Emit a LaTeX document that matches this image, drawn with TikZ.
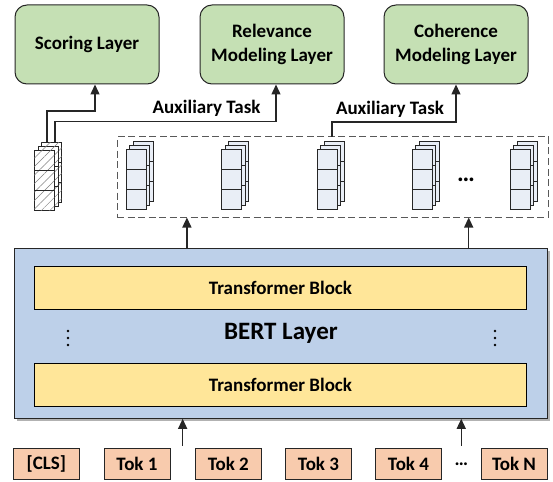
\documentclass[tikz,border=0pt]{standalone}
\usepackage{fontspec}
\setmainfont{Carlito}
\usetikzlibrary{arrows.meta,patterns.meta,calc,positioning}

\definecolor{headgreen}{HTML}{C5E0B4}
\definecolor{bertblue}{HTML}{BDD0E9}
\definecolor{blockyellow}{HTML}{FFE699}
\definecolor{tokorange}{HTML}{F8CBAD}
\definecolor{cellblue}{HTML}{E9EEF6}
\definecolor{edgegray}{HTML}{262626}

\tikzset{
  headbox/.style={draw=edgegray,fill=headgreen,rounded corners=12pt,line width=1pt,
    minimum width=144pt,minimum height=79pt,inner sep=0pt,align=center,
    font=\fontsize{19}{24}\selectfont\bfseries},
  tokbox/.style={draw=edgegray,fill=tokorange,line width=1pt,minimum width=66pt,
    minimum height=31pt,inner sep=0pt,font=\fontsize{19}{22}\selectfont\bfseries},
  blockbox/.style={draw=black,fill=blockyellow,line width=1pt,minimum width=492pt,
    minimum height=42.6pt,inner sep=0pt,font=\fontsize{19}{22}\selectfont\bfseries},
  cellbox/.style={draw=edgegray,line width=0.9pt,fill=cellblue},
  hatchcell/.style={fill=white,postaction={pattern={Lines[angle=45,distance=6pt,line width=0.5pt]},pattern color=gray}},
  link/.style={draw=edgegray,line width=1.4pt,-{Triangle[length=10pt,width=9pt]}},
  tasklabel/.style={anchor=base,font=\fontsize{19}{22}\selectfont\bfseries},
}

% stack of three cells, #1,#2 = top left of front layer
\newcommand{\vecstack}[3]{%
  \foreach \d in {2,1,0}{
    \begin{scope}[shift={({#1+3.7*\d},{#2-3.7*\d})}]
      \filldraw[cellbox,#3] (0,0) rectangle (20,60);
      \draw[cellbox] (0,20) -- (20,20) (0,40) -- (20,40);
    \end{scope}
  }
}

\begin{document}
\begin{tikzpicture}[x=1pt,y=-1pt]
  \useasboundingbox (0,0) rectangle (553,481);

  % output layers
  \node[headbox] (score) at (87,44.5) {Scoring Layer};
  \node[headbox] (relev) at (272,44.5) {Relevance\\Modeling Layer};
  \node[headbox] (coher) at (456,44.5) {Coherence\\Modeling Layer};

  % BERT
  \fill[gray!60] (17,251) rectangle (549.5,420.5);
  \node[draw=edgegray,fill=bertblue,line width=1pt,minimum width=532.3pt,minimum height=169.6pt,
    inner sep=0pt,font=\fontsize{25}{30}\selectfont\bfseries] (bert) at (280.9,333.5) {BERT Layer};
  \node[blockbox] (blka) at (280.5,288) {Transformer Block};
  \node[blockbox] (blkb) at (280.5,385.2) {Transformer Block};
  \foreach \y in {331,338,345}{
    \fill[black] (68,\y) circle (1.3);
    \fill[black] (495,\y) circle (1.3);
  }

  % tokens
  \node[tokbox] (tokc) at (46.3,463.8) {[CLS]};
  \node[tokbox] (tok1) at (137,463.8) {Tok 1};
  \node[tokbox] (tok2) at (228.3,463.8) {Tok 2};
  \node[tokbox] (tok3) at (318.5,463.8) {Tok 3};
  \node[tokbox] (tok4) at (408.5,463.8) {Tok 4};
  \node[tokbox] (tokn) at (514,463.8) {Tok N};
  \node[font=\fontsize{19}{22}\selectfont\bfseries] (tdots) at ($(tok4.east)!0.5!(tokn.west)$) {…};

  \coordinate (in1) at ($(tok1.north east)!0.5!(tok2.north west)+(0,-2)$);
  \coordinate (in2) at ($(tok4.north east)!0.5!(tokn.north west)+(0,-2)$);
  \draw[link] (in1) -- (in1 |- bert.south);
  \draw[link] (in2) -- (in2 |- bert.south);

  % token vectors
  \node[draw=gray!70!black,dash pattern=on 7pt off 3.5pt,line width=1pt,minimum width=431pt,
    minimum height=80pt,inner sep=0pt] (vecs) at (332.5,177) {};
  \foreach \x in {126,221.5,317,412,510}
    \vecstack{\x}{149}{};
  \node[font=\fontsize{25}{30}\selectfont\bfseries] (vdots) at (466,180) {…};
  \vecstack{34.3}{150}{hatchcell};

  \coordinate (out1) at ([xshift=-94pt]bert.north);
  \coordinate (out2) at ([xshift=187.8pt]bert.north);
  \draw[link] (out1) -- (out1 |- vecs.south);
  \draw[link] (out2) -- (out2 |- vecs.south);

  % auxiliary tasks
  \coordinate (hs1) at (47,142.7);
  \coordinate (hs2) at (55,142.7);
  \coordinate (dtop) at (332,137);
  \draw[link] (hs1) -- ++(0,-31.7) -| ([xshift=8pt]score.south);
  \draw[link] (hs2) -- ++(0,-21) -| ([xshift=4pt]relev.south);
  \draw[link] (dtop) -- ++(0,-15) -| (coher.south);
  \node[tasklabel] (aux1) at (206.5,114) {Auxiliary Task};
  \node[tasklabel] (aux2) at (390,115) {Auxiliary Task};
\end{tikzpicture}
\end{document}
